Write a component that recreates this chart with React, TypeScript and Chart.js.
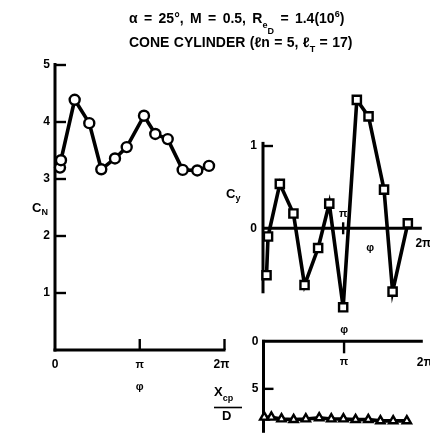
import React, { useEffect, useRef } from "react";
import { Chart, registerables } from "chart.js";

Chart.register(...registerables);

const WIDTH = 430;
const HEIGHT = 438;

// ---- data (phi in degrees) ----
const CN_PHI = [10.6, 12.7, 41.8, 72.8, 98.3, 127.4, 152.3, 189, 213, 239.4, 271.2, 302.2, 327.1];
const CN_VALUES = [3.2, 3.33, 4.39, 3.98, 3.17, 3.36, 3.56, 4.11, 3.79, 3.7, 3.16, 3.15, 3.23];
const CN_Y_TICKS = [1, 2, 3, 4, 5];

const CY_PHI = [7.9, 11.3, 37.8, 68.3, 93.3, 123.8, 148.8, 180, 210.7, 237, 271.8, 291, 325.2];
const CY_VALUES = [-0.57, -0.1, 0.54, 0.18, -0.69, -0.24, 0.3, -0.96, 1.56, 1.36, 0.47, -0.77, 0.06];
const CY_Y_TICKS = [0, 1];
const CY_AXIS_RANGE = [-0.79, 1.05];

const XCP_PHI = [1.7, 17.5, 40.2, 67.3, 94.5, 124.4, 151.4, 178.5, 205.7, 234.1, 261.2, 289.7, 320.2];
const XCP_VALUES = [7.98, 7.98, 8.17, 8.24, 8.17, 8.05, 8.17, 8.17, 8.24, 8.24, 8.37, 8.37, 8.37];
const XCP_Y_TICKS = [0, 5];

const PHI_TICKS = [0, 180, 360];
const PHI_LABELS = ["0", "π", "2π"];

const FONT = '"Liberation Sans", Arial, Helvetica, sans-serif';

type Seg = [string, number, number];

function setFont(ctx: CanvasRenderingContext2D, size: number) {
  ctx.font = `bold ${size}px ${FONT}`;
}

function line(ctx: CanvasRenderingContext2D, x1: number, y1: number, x2: number, y2: number, w: number) {
  ctx.beginPath();
  ctx.lineWidth = w;
  ctx.moveTo(x1, y1);
  ctx.lineTo(x2, y2);
  ctx.stroke();
}

function text(
  ctx: CanvasRenderingContext2D,
  s: string,
  x: number,
  y: number,
  size: number,
  align: CanvasTextAlign = "center",
  baseline: CanvasTextBaseline = "middle"
) {
  setFont(ctx, size);
  ctx.textAlign = align;
  ctx.textBaseline = baseline;
  ctx.fillText(s, x, y);
}

function rich(ctx: CanvasRenderingContext2D, segs: Seg[], x: number, y: number, wordGap = 0) {
  let cx = x;
  ctx.textAlign = "left";
  ctx.textBaseline = "alphabetic";
  for (const [t, size, dy] of segs) {
    setFont(ctx, size);
    const parts = t.split(" ");
    parts.forEach((p, i) => {
      if (p) {
        ctx.fillText(p, cx, y + dy);
        cx += ctx.measureText(p).width;
      }
      if (i < parts.length - 1) cx += ctx.measureText(" ").width + wordGap;
    });
  }
}

const TITLE_1: Seg[] = [
  ["α = 25°, M = 0.5, R", 14, 0],
  ["e", 9, 5],
  ["D", 9, 11],
  [" = 1.4(10", 14, 0],
  ["6", 9, -6],
  [")", 14, 0],
];
const TITLE_2: Seg[] = [
  ["CONE CYLINDER (ℓn = 5, ℓ", 14, 0],
  ["T", 9, 5],
  [" = 17)", 14, 0],
];

type Area = { left: number; top: number; right: number; bottom: number };

function makeChart(
  canvas: HTMLCanvasElement,
  phi: number[],
  values: number[],
  pointStyle: any,
  pointRadius: number,
  area: Area,
  xMax: number,
  yMin: number,
  yMax: number,
  reverse: boolean,
  drawAxes: (chart: any, ctx: CanvasRenderingContext2D) => void,
  drawAfter?: (chart: any, ctx: CanvasRenderingContext2D) => void
) {
  return new Chart(canvas, {
    type: "line",
    data: {
      datasets: [
        {
          data: phi.map((p, i) => ({ x: p, y: values[i] })),
          borderColor: "#000",
          borderWidth: 3.6,
          pointStyle,
          pointRadius,
          pointBackgroundColor: "#fff",
          pointBorderColor: "#000",
          pointBorderWidth: 2.4,
          tension: 0,
          clip: false as any,
        },
      ],
    },
    options: {
      animation: false,
      responsive: false,
      events: [],
      layout: {
        padding: {
          left: area.left,
          top: area.top,
          right: WIDTH - area.right,
          bottom: HEIGHT - area.bottom,
        },
      },
      plugins: { legend: { display: false }, tooltip: { enabled: false } },
      scales: {
        x: { type: "linear", min: 0, max: xMax, display: false },
        y: { type: "linear", min: yMin, max: yMax, reverse, display: false },
      },
    },
    plugins: [
      {
        id: "sketchAxes",
        beforeDatasetsDraw(chart: any) {
          const ctx = chart.ctx as CanvasRenderingContext2D;
          ctx.save();
          ctx.strokeStyle = "#000";
          ctx.fillStyle = "#000";
          ctx.lineCap = "butt";
          drawAxes(chart, ctx);
          ctx.restore();
        },
        afterDraw(chart: any) {
          if (!drawAfter) return;
          const ctx = chart.ctx as CanvasRenderingContext2D;
          ctx.save();
          ctx.fillStyle = "#000";
          ctx.strokeStyle = "#000";
          drawAfter(chart, ctx);
          ctx.restore();
        },
      },
    ],
  } as any);
}

export default function App() {
  const c1 = useRef<HTMLCanvasElement>(null);
  const c2 = useRef<HTMLCanvasElement>(null);
  const c3 = useRef<HTMLCanvasElement>(null);

  useEffect(() => {
    const charts: Chart[] = [];

    // ---- C_N vs phi ----
    charts.push(
      makeChart(
        c1.current!,
        CN_PHI,
        CN_VALUES,
        "circle",
        5,
        { left: 55, top: 65, right: 224.5, bottom: 350 },
        360,
        0,
        5,
        false,
        (chart, ctx) => {
          const xs = chart.scales.x;
          const ys = chart.scales.y;
          const x0 = xs.getPixelForValue(0);
          const y0 = ys.getPixelForValue(0);
          line(ctx, x0, y0 + 1.5, x0, ys.getPixelForValue(5) - 2, 3);
          line(ctx, x0 - 1.5, y0, xs.getPixelForValue(360) + 1, y0, 3);
          CN_Y_TICKS.forEach((v) => {
            const y = ys.getPixelForValue(v);
            line(ctx, x0, y, x0 + 11, y, 2.4);
            text(ctx, String(v), x0 - 5, y, 12, "right");
          });
          PHI_TICKS.forEach((p, i) => {
            const x = xs.getPixelForValue(p);
            if (p > 0) line(ctx, x, y0, x, y0 - 11, 2.4);
            text(ctx, PHI_LABELS[i], x - (p === 360 ? 3 : 0), y0 + 15, p === 180 ? 11 : 12);
          });
          text(ctx, "φ", xs.getPixelForValue(180), y0 + 37, 11);
          rich(ctx, [["C", 13, 0], ["N", 9, 3]], 32, 212);
        },
        (chart, ctx) => {
          rich(ctx, TITLE_1, 129, 23, 2.5);
          rich(ctx, TITLE_2, 129, 47, 0.5);
        }
      )
    );

    // ---- C_y vs phi ----
    charts.push(
      makeChart(
        c2.current!,
        CY_PHI,
        CY_VALUES,
        "rect",
        5.8,
        { left: 263, top: 88.4, right: 430, bottom: 318.8 },
        356.6,
        -1.1,
        1.7,
        false,
        (chart, ctx) => {
          const xs = chart.scales.x;
          const ys = chart.scales.y;
          const area = chart.chartArea;
          const x0 = xs.getPixelForValue(0);
          const y0 = ys.getPixelForValue(0);
          line(ctx, x0, ys.getPixelForValue(CY_AXIS_RANGE[0]), x0, ys.getPixelForValue(CY_AXIS_RANGE[1]), 3);
          line(ctx, x0, y0, area.right, y0, 3);
          CY_Y_TICKS.forEach((v) => {
            const y = ys.getPixelForValue(v);
            if (v !== 0) line(ctx, x0, y, x0 + 10, y, 2.4);
            text(ctx, String(v), x0 - 6, y, 12, "right");
          });
          const xPi = xs.getPixelForValue(180);
          line(ctx, xPi, y0 - 6, xPi, y0 + 6, 2.4);
          text(ctx, PHI_LABELS[1], xPi, y0 - 14, 11);
          text(ctx, PHI_LABELS[2], xs.getPixelForValue(360), y0 + 15, 12);
          text(ctx, "φ", xPi + 27, y0 + 20, 11);
          rich(ctx, [["C", 13, 0], ["y", 9, 3]], 226, 198);
        }
      )
    );

    // ---- X_cp/D vs phi ----
    charts.push(
      makeChart(
        c3.current!,
        XCP_PHI,
        XCP_VALUES,
        "triangle",
        4.8,
        { left: 263.5, top: 341.3, right: 430, bottom: 438 },
        355.9,
        0,
        9.41,
        true,
        (chart, ctx) => {
          const xs = chart.scales.x;
          const ys = chart.scales.y;
          const area = chart.chartArea;
          const x0 = xs.getPixelForValue(0);
          const y0 = ys.getPixelForValue(0);
          line(ctx, x0, y0 - 1.5, x0, area.bottom + 2, 3);
          line(ctx, x0 - 1.5, y0, area.right, y0, 3);
          XCP_Y_TICKS.forEach((v) => {
            const y = ys.getPixelForValue(v);
            if (v !== 0) line(ctx, x0, y, x0 + 10, y, 2.4);
            text(ctx, String(v), x0 - 5, y, 12, "right");
          });
          const xPi = xs.getPixelForValue(180);
          line(ctx, xPi, y0, xPi, y0 + 12, 2.4);
          text(ctx, PHI_LABELS[1], xPi, y0 + 21, 11);
          text(ctx, PHI_LABELS[2], xs.getPixelForValue(360), y0 + 21, 12);
          text(ctx, "φ", xPi, y0 - 11, 11);
          rich(ctx, [["X", 13, 0], ["cp", 9, 5]], 214, 396);
          line(ctx, 214, 407.5, 242, 407.5, 1.6);
          text(ctx, "D", 222, 420, 13, "left", "alphabetic");
        }
      )
    );

    return () => charts.forEach((c) => c.destroy());
  }, []);

  const canvasStyle: React.CSSProperties = { position: "absolute", left: 0, top: 0 };
  return (
    <div
      style={{
        position: "fixed",
        left: 0,
        top: 0,
        width: WIDTH,
        height: HEIGHT,
        background: "#fff",
        overflow: "hidden",
      }}
    >
      <canvas ref={c1} width={WIDTH} height={HEIGHT} style={canvasStyle} />
      <canvas ref={c2} width={WIDTH} height={HEIGHT} style={canvasStyle} />
      <canvas ref={c3} width={WIDTH} height={HEIGHT} style={canvasStyle} />
    </div>
  );
}
